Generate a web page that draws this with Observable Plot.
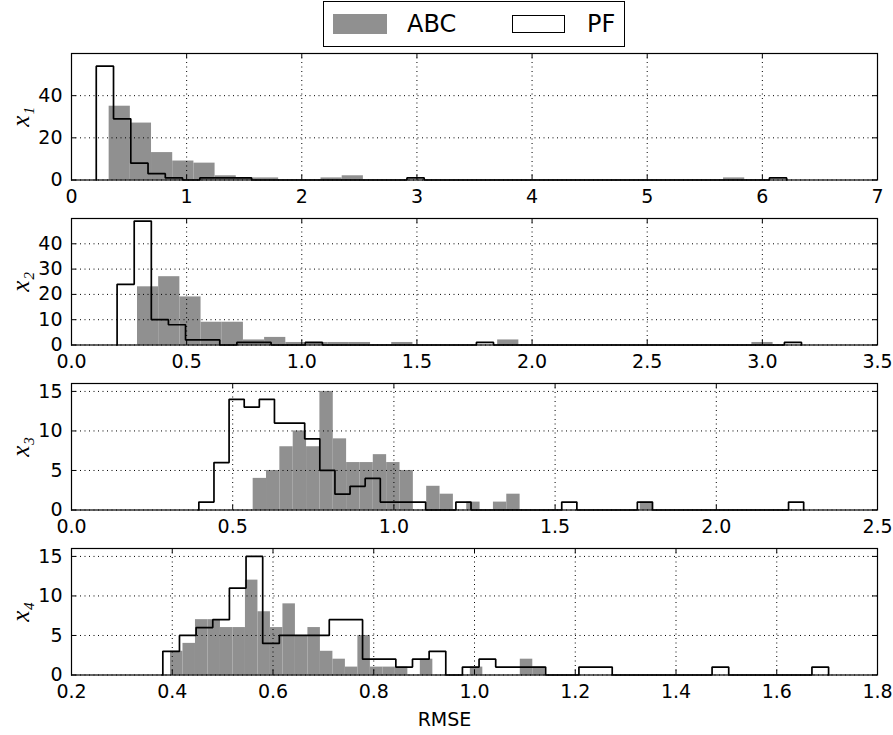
<!DOCTYPE html>
<html>
<head>
<meta charset="utf-8">
<script src="https://cdn.jsdelivr.net/npm/d3@7"></script>
<script src="https://cdn.jsdelivr.net/npm/@observablehq/plot@0.6"></script>
<style>
  html, body { margin: 0; padding: 0; background: #fff; }
  #wrap { width: 893px; height: 735px; position: relative; overflow: hidden; font-family: "DejaVu Sans", sans-serif; }
  #legend { position: relative; height: 48px; }
  #legendBox { position: absolute; left: 323px; top: 1px; width: 300px; height: 44px; border: 1.5px solid #000; background: #fff; }
  .sw { position: absolute; box-sizing: border-box; }
  .lt { position: absolute; font-size: 24px; line-height: 24px; color: #000; }
  svg { display: block; }
</style>
</head>
<body>
<div id="wrap">
  <div id="legend">
    <div id="legendBox">
      <div class="sw" style="left:9px; top:12px; width:54px; height:20px; background:#909090;"></div>
      <div class="lt" style="left:83px; top:10px;">ABC</div>
      <div class="sw" style="left:188px; top:13px; width:53px; height:18px; border:1.6px solid #000; background:#fff;"></div>
      <div class="lt" style="left:263px; top:10px;">PF</div>
    </div>
  </div>
  <div id="charts"></div>
</div>
<script>
// ---- data (histogram counts) ----
const seriesNames = ["ABC", "PF"];
const yLabels = ["x\u2081", "x\u2082", "x\u2083", "x\u2084"];
const xLabel = "RMSE";

// ABC: 30 bins per panel (first edge, bin width, counts)
const abcStart = [0.327, 0.2866, 0.5635, 0.3965];
const abcWidth = [0.184, 0.092, 0.0414, 0.0248];
const abc1 = [35,27,13,9,8,2,1,1,0,0,1,2,0,0,0,0,0,0,0,0,0,0,0,0,0,0,0,0,0,1];
const abc2 = [23,27,19,9,9,2,3,1,1,1,1,0,1,0,0,0,0,2,0,0,0,0,0,0,0,0,0,0,0,1];
const abc3 = [4,5,8,10,8,15,9,6,6,7,6,5,0,3,2,0,1,0,1,2,0,0,0,0,0,0,0,0,0,1];
const abc4 = [3,4,7,7,6,6,12,8,6,9,5,6,3,2,1,5,1,1,1,0,2,0,0,0,1,0,0,0,2,1];

// PF: 40 bins per panel
const pfStart = [0.215, 0.198, 0.395, 0.3813];
const pfWidth = [0.1499, 0.0743, 0.0469, 0.03304];
const pf1 = [54,29,8,3,1,0,1,1,1,0,0,0,0,0,0,0,0,0,1,0,0,0,0,0,0,0,0,0,0,0,0,0,0,0,0,0,0,0,0,1];
const pf2 = [24,49,10,8,2,2,0,1,1,0,0,1,0,0,0,0,0,0,0,0,0,1,0,0,0,0,0,0,0,0,0,0,0,0,0,0,0,0,0,1];
const pf3 = [1,6,14,13,14,11,11,9,5,2,3,4,1,1,1,0,0,1,0,0,0,0,0,0,1,0,0,0,0,1,0,0,0,0,0,0,0,0,0,1];
const pf4 = [3,5,6,7,11,15,4,5,5,5,7,7,2,2,1,2,3,0,1,2,1,1,1,0,0,1,1,0,0,0,0,0,0,1,0,0,0,0,0,1];

// axes
const xDomains = [[0, 7], [0, 3.5], [0, 2.5], [0.2, 1.8]];
const xTicks = [
  [0,1,2,3,4,5,6,7],
  [0,0.5,1,1.5,2,2.5,3,3.5],
  [0,0.5,1,1.5,2,2.5],
  [0.2,0.4,0.6,0.8,1.0,1.2,1.4,1.6,1.8]
];
const xFormats = [d3.format("d"), d3.format(".1f"), d3.format(".1f"), d3.format(".1f")];
const yDomains = [[0, 60], [0, 50], [0, 16], [0, 16]];
const yTicks = [[0,20,40], [0,10,20,30,40], [0,5,10,15], [0,5,10,15]];

const abcCounts = [abc1, abc2, abc3, abc4];
const pfCounts = [pf1, pf2, pf3, pf4];

// ---- drawing ----
const W = 893, mL = 71, mR = 16, mT = 5;
const frameH = 126.5;
const tickLen = 5;
const fillABC = "#909090";

function panel(i) {
  const last = i === 3;
  const mB = last ? 60.5 : 33.5;
  const H = mT + frameH + mB;
  const iw = W - mL - mR;

  const abcRows = abcCounts[i].map((c, k) => ({
    x1: abcStart[i] + k * abcWidth[i],
    x2: abcStart[i] + (k + 1) * abcWidth[i],
    y: c
  }));
  const n = pfCounts[i].length;
  const pfPts = [{x: pfStart[i], y: 0}]
    .concat(pfCounts[i].map((c, k) => ({x: pfStart[i] + k * pfWidth[i], y: c})))
    .concat([{x: pfStart[i] + n * pfWidth[i], y: 0}]);

  const marks = [
    Plot.rectY(abcRows, {x1: "x1", x2: "x2", y1: 0, y2: "y", fill: fillABC}),
    Plot.gridX(xTicks[i], {stroke: "#000", strokeOpacity: 1, strokeWidth: 1, strokeDasharray: "1,3.5"}),
    Plot.gridY(yTicks[i], {stroke: "#000", strokeOpacity: 1, strokeWidth: 1, strokeDasharray: "1,3.5"}),
    Plot.line(pfPts, {x: "x", y: "y", curve: "step-after", stroke: "#000", strokeWidth: 1.7, strokeLinejoin: "miter"}),
    // inward ticks on all four sides
    Plot.ruleX(xTicks[i], {stroke: "#000", strokeWidth: 1, insetTop: frameH - tickLen}),
    Plot.ruleX(xTicks[i], {stroke: "#000", strokeWidth: 1, insetBottom: frameH - tickLen}),
    Plot.ruleY(yTicks[i], {stroke: "#000", strokeWidth: 1, insetRight: iw - tickLen}),
    Plot.ruleY(yTicks[i], {stroke: "#000", strokeWidth: 1, insetLeft: iw - tickLen}),
    Plot.frame({stroke: "#000", strokeWidth: 1.2}),
    Plot.axisX(xTicks[i], {tickSize: 0, tickPadding: 9, tickFormat: xFormats[i], label: null}),
    Plot.axisY(yTicks[i], {tickSize: 0, tickPadding: 9, label: null}),
    Plot.text([yLabels[i]], {
      frameAnchor: "left", dx: -51, rotate: -90, text: d => d,
      fontFamily: "Liberation Serif", fontStyle: "italic", fontSize: 25,
      textAnchor: "middle", lineAnchor: "middle", fill: "#000"
    })
  ];
  if (last) {
    marks.push(Plot.text([xLabel], {
      frameAnchor: "bottom", dx: -30, dy: 45, text: d => d,
      textAnchor: "middle", lineAnchor: "middle", fontSize: 19, fill: "#000"
    }));
  }

  return Plot.plot({
    width: W, height: H,
    marginLeft: mL, marginRight: mR, marginTop: mT, marginBottom: mB,
    x: {domain: xDomains[i], label: null},
    y: {domain: yDomains[i], label: null},
    style: {fontFamily: "DejaVu Sans", fontSize: "19px", color: "#000", background: "transparent", overflow: "visible"},
    marks
  });
}

const host = document.getElementById("charts");
for (let i = 0; i < 4; i++) host.appendChild(panel(i));
</script>
</body>
</html>
